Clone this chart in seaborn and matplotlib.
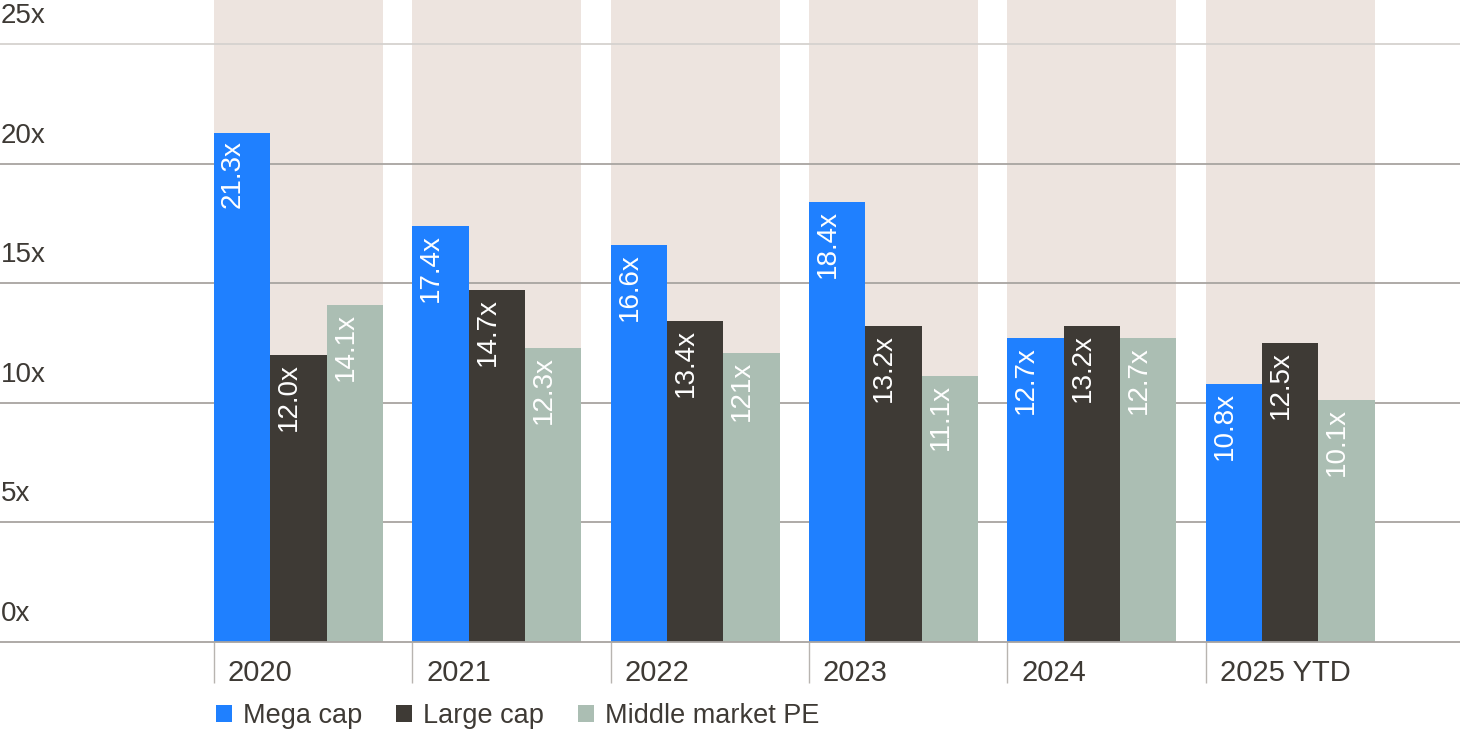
import matplotlib
matplotlib.use("Agg")
import matplotlib.pyplot as plt
import matplotlib.transforms as mtransforms
import seaborn as sns
import pandas as pd
import numpy as np

# ---- data ----
years = ["2020", "2021", "2022", "2023", "2024", "2025 YTD"]
series_names = ["Mega cap", "Large cap", "Middle market PE"]
mega_cap = [21.3, 17.4, 16.6, 18.4, 12.7, 10.8]
large_cap = [12.0, 14.7, 13.4, 13.2, 13.2, 12.5]
middle_pe = [14.1, 12.3, 12.1, 11.1, 12.7, 10.1]
mega_labels = ["21.3x", "17.4x", "16.6x", "18.4x", "12.7x", "10.8x"]
large_labels = ["12.0x", "14.7x", "13.4x", "13.2x", "13.2x", "12.5x"]
middle_labels = ["14.1x", "12.3x", "121x", "11.1x", "12.7x", "10.1x"]
y_ticks = [0, 5, 10, 15, 20, 25]
y_tick_labels = ["0x", "5x", "10x", "15x", "20x", "25x"]

colors = ["#1f80ff", "#3e3a35", "#abbeb3"]
bg_color = "#ede4df"
text_color = "#3e3a35"
grid_color = "#a8a4a0"

df = pd.DataFrame({
    "year": years * 3,
    "series": sum([[s] * len(years) for s in series_names], []),
    "value": mega_cap + large_cap + middle_pe,
})
label_map = {series_names[0]: mega_labels, series_names[1]: large_labels, series_names[2]: middle_labels}

sns.set_theme(style="white")
plt.rcParams["font.family"] = ["Liberation Sans", "DejaVu Sans"]

W, H, DPI = 1460, 731, 100
fig = plt.figure(figsize=(W / DPI, H / DPI), dpi=DPI)
ax_bottom = (H - 642) / H
ax = fig.add_axes([0, ax_bottom, 1, 1 - ax_bottom])

group_w = 0.852
ymax = 26.84
xlim = (-1.505, 5.857)

# background columns
ax.bar(np.arange(len(years)), [ymax] * len(years), width=group_w, color=bg_color,
       linewidth=0, zorder=0.2)
n_bg = len(ax.containers)

sns.barplot(data=df, x="year", y="value", hue="series", hue_order=series_names,
            order=years, palette=colors, width=group_w, gap=0, saturation=1,
            linewidth=0, ax=ax, zorder=1)

ax.set_xlim(*xlim)
ax.set_ylim(0, ymax)
ax.set_xlabel("")
ax.set_ylabel("")

# gridlines
for v in y_ticks[1:]:
    c = "#d5d2cf" if v == 25 else grid_color
    ax.axhline(v, color=c, linewidth=1.3, zorder=0.5)
ax.set_yticks([])
for v, lab in zip(y_ticks, y_tick_labels):
    tr = mtransforms.blended_transform_factory(ax.transAxes, ax.transData) + \
        mtransforms.ScaledTranslation(1 / DPI, 15 / DPI, fig.dpi_scale_trans)
    ax.text(0, v, lab, transform=tr, ha="left", va="bottom", fontsize=20,
            color=text_color, clip_on=False)

# spines
for s in ["top", "right", "left"]:
    ax.spines[s].set_visible(False)
ax.spines["bottom"].set_color(grid_color)
ax.spines["bottom"].set_linewidth(1.3)
ax.spines["bottom"].set_zorder(3)

# category ticks at group left edges
lefts = np.arange(len(years)) - group_w / 2
ax.set_xticks(lefts, years)
ax.tick_params(axis="x", bottom=True, length=41 * 72 / DPI, width=1.0, color="#b8b4b0",
               pad=-24 * 72 / DPI, labelsize=21, labelcolor=text_color, direction="out")
off = mtransforms.ScaledTranslation(14 / DPI, 0, fig.dpi_scale_trans)
for lab in ax.get_xticklabels():
    lab.set_ha("left")
    lab.set_transform(lab.get_transform() + off)

# bar value labels
for cont, name in zip(ax.containers[n_bg:], series_names):
    for patch, txt in zip(cont.patches, label_map[name]):
        x0 = patch.get_x()
        top = patch.get_height()
        tr = ax.transData + mtransforms.ScaledTranslation(6 / DPI, -8 / DPI, fig.dpi_scale_trans)
        ax.text(x0, top, txt, transform=tr, rotation=90, ha="left", va="top",
                fontsize=20, color="white", zorder=5)

# legend
handles, labels = ax.get_legend_handles_labels()
if ax.legend_ is not None:
    ax.legend_.remove()
fig.legend(handles[-3:], labels[-3:], loc="lower left", bbox_to_anchor=(216 / W, 2 / H),
           ncol=3, frameon=False, fontsize=19.5, handlelength=0.6, handleheight=0.6,
           handletextpad=0.4, columnspacing=1.25, borderpad=0, borderaxespad=0,
           labelcolor=text_color)

fig.savefig("out.png", dpi=DPI)
